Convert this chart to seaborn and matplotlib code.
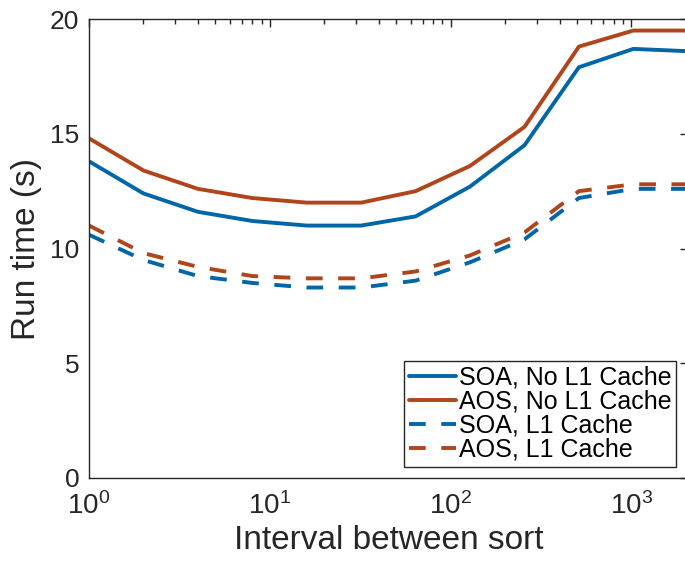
import matplotlib
matplotlib.use("Agg")
import matplotlib.pyplot as plt
import seaborn as sns
import pandas as pd
from matplotlib.ticker import LogLocator
from matplotlib.lines import Line2D

interval = [1, 2, 4, 8, 16, 32, 64, 128, 256, 512, 1024, 2048]
soa_no_l1 = [13.8, 12.4, 11.6, 11.2, 11.0, 11.0, 11.4, 12.7, 14.5, 17.9, 18.7, 18.6]
aos_no_l1 = [14.8, 13.4, 12.6, 12.2, 12.0, 12.0, 12.5, 13.6, 15.3, 18.8, 19.5, 19.5]
soa_l1 = [10.6, 9.5, 8.8, 8.5, 8.3, 8.3, 8.6, 9.4, 10.4, 12.2, 12.6, 12.6]
aos_l1 = [11.0, 9.8, 9.2, 8.8, 8.7, 8.7, 9.0, 9.7, 10.7, 12.5, 12.8, 12.8]
series_names = ["SOA, No L1 Cache", "AOS, No L1 Cache", "SOA, L1 Cache", "AOS, L1 Cache"]
yticks = [0, 5, 10, 15, 20]

sns.set_theme(style="white")
plt.rcParams["font.family"] = ["Liberation Sans", "DejaVu Sans"]
plt.rcParams["mathtext.default"] = "regular"

blue = "#0166A7"
red = "#B0441B"
dark = "#262626"

rows = []
for name, vals in zip(series_names, [soa_no_l1, aos_no_l1, soa_l1, aos_l1]):
    for x, v in zip(interval, vals):
        rows.append({"interval": x, "time": v, "series": name})
df = pd.DataFrame(rows)

fig = plt.figure(figsize=(6.85, 5.61), dpi=100)
ax = fig.add_axes([0.130, 0.148, 0.874, 0.818])

sns.lineplot(data=df, x="interval", y="time", hue="series", style="series",
             hue_order=series_names, style_order=series_names,
             palette=[blue, red, blue, red],
             dashes=[(None, None), (None, None), (4.3, 4.0), (4.3, 4.0)],
             linewidth=2.8, ax=ax, legend=False)

ax.set_xscale("log")
ax.set_xlim(1, 2048)
ax.set_ylim(0, 20)
ax.set_yticks(yticks)
ax.xaxis.set_major_locator(LogLocator(base=10))
ax.xaxis.set_minor_locator(LogLocator(base=10, subs=range(2, 10)))

for s in ax.spines.values():
    s.set_visible(True)
    s.set_color(dark)
    s.set_linewidth(1.0)

ax.tick_params(which="both", direction="in", top=True, right=True,
               color=dark, labelcolor=dark, width=1.0)
ax.tick_params(which="major", length=6, pad=7)
ax.tick_params(which="minor", length=3.5)
ax.tick_params(axis="y", which="major", labelsize=19)
ax.tick_params(axis="x", which="major", labelsize=20, pad=10)

ax.set_xlabel("Interval between sort", fontsize=24, color=dark, labelpad=4)
ax.set_ylabel("Run time (s)", fontsize=24, color=dark, labelpad=6)

handles = [
    Line2D([], [], color=blue, lw=2.8),
    Line2D([], [], color=red, lw=2.8),
    Line2D([], [], color=blue, lw=2.8, dashes=(4.3, 4.0)),
    Line2D([], [], color=red, lw=2.8, dashes=(4.3, 4.0)),
]
leg = ax.legend(handles, series_names, loc="lower right", fontsize=18,
                frameon=True, fancybox=False, handlelength=1.9,
                handletextpad=0.1, labelspacing=0.0, borderpad=0.2,
                borderaxespad=0.45)
leg.get_frame().set_edgecolor(dark)
leg.get_frame().set_linewidth(1.0)
leg.get_frame().set_facecolor("white")
leg.get_frame().set_alpha(1.0)
for t in leg.get_texts():
    t.set_color("black")

fig.savefig("out.png", dpi=100)
